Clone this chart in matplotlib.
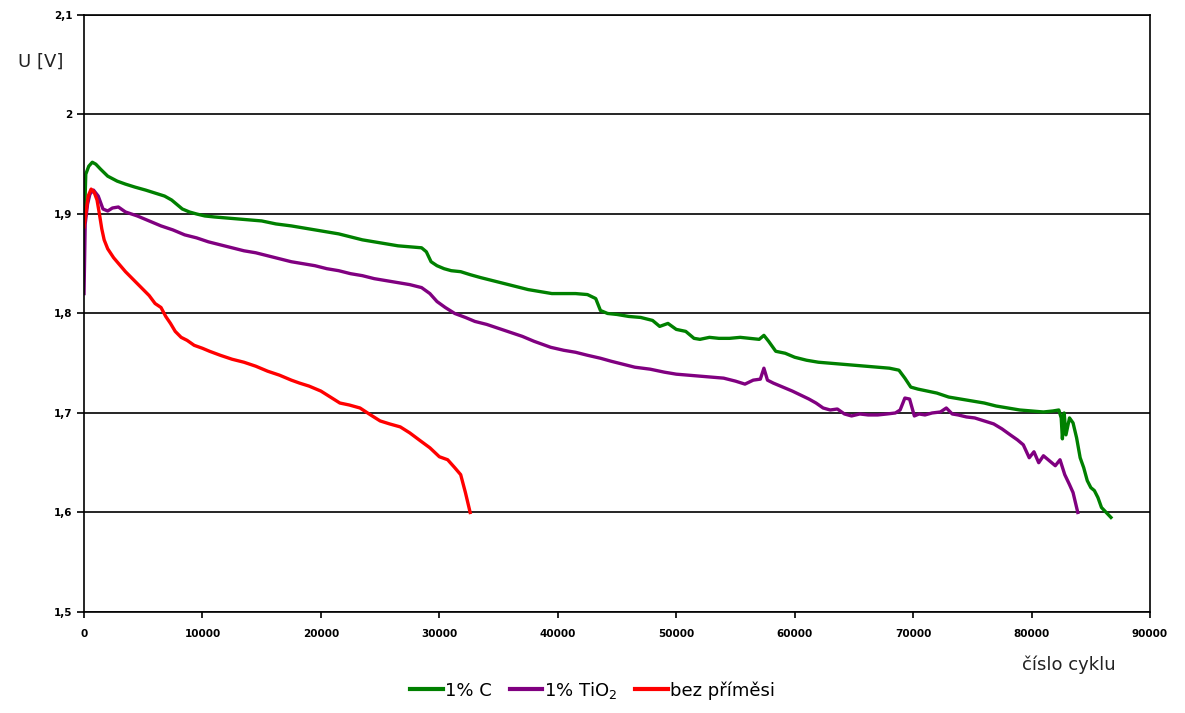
import matplotlib
matplotlib.use("Agg")
import matplotlib.pyplot as plt
from matplotlib.ticker import FuncFormatter, MultipleLocator

# 1% C
c_x = [0, 150, 400, 700, 1000, 1400, 2000, 2800, 3500, 4300, 5200, 6000, 6800, 7400,
       7800, 8300, 8900, 9500, 10200, 11000, 12000, 13000, 14000, 15000, 16200, 17500,
       18500, 19500, 20500, 21500, 22500, 23500, 24500, 25500, 26500, 27500, 28500, 28900,
       29300, 29800, 30400, 31000, 31800, 32600, 33500, 34500, 35500, 36500, 37500, 38500,
       39500, 40500, 41500, 42500, 43200, 43600, 44200, 45000, 46000, 47000, 48000, 48600,
       49300, 50000, 50800, 51500, 52000, 52800, 53600, 54500, 55400, 56200, 57000, 57400,
       57800, 58400, 59200, 60000, 61000, 62000, 63000, 64000, 65000, 66000, 67000, 68000,
       68800, 69300, 69800, 70400, 71200, 72000, 73000, 74000, 75000, 76000, 77000, 78000,
       79000, 80000, 81000, 81800, 82300, 82500, 82600, 82750, 82900, 83200, 83500, 83800,
       84100, 84400, 84700, 85000, 85300, 85600, 85900, 86300, 86700]
c_y = [1.88, 1.94, 1.948, 1.952, 1.95, 1.945, 1.938, 1.933, 1.93, 1.927, 1.924, 1.921, 1.918, 1.914,
       1.91, 1.905, 1.902, 1.9, 1.898, 1.897, 1.896, 1.895, 1.894, 1.893, 1.89, 1.888,
       1.886, 1.884, 1.882, 1.88, 1.877, 1.874, 1.872, 1.87, 1.868, 1.867, 1.866, 1.862,
       1.852, 1.848, 1.845, 1.843, 1.842, 1.839, 1.836, 1.833, 1.83, 1.827, 1.824, 1.822,
       1.82, 1.82, 1.82, 1.819, 1.815, 1.803, 1.8, 1.799, 1.797, 1.796, 1.793, 1.787,
       1.79, 1.784, 1.782, 1.775, 1.774, 1.776, 1.775, 1.775, 1.776, 1.775, 1.774, 1.778,
       1.772, 1.762, 1.76, 1.756, 1.753, 1.751, 1.75, 1.749, 1.748, 1.747, 1.746, 1.745,
       1.743, 1.735, 1.726, 1.724, 1.722, 1.72, 1.716, 1.714, 1.712, 1.71, 1.707, 1.705,
       1.703, 1.702, 1.701, 1.702, 1.703, 1.695, 1.674, 1.7, 1.678, 1.695, 1.69, 1.675,
       1.655, 1.645, 1.632, 1.625, 1.622, 1.615, 1.605, 1.6, 1.595]

# 1% TiO2
t_x = [0, 100, 300, 500, 800, 1200, 1600, 2000, 2400, 2900, 3500, 4500, 5500, 6500,
       7500, 8500, 9500, 10500, 11500, 12500, 13500, 14500, 15500, 16500, 17500, 18500,
       19500, 20500, 21500, 22500, 23500, 24500, 25500, 26500, 27500, 28500, 29200, 29800,
       30500, 31300, 32200, 33000, 34000, 35000, 36000, 37000, 38000, 39400, 40500, 41500,
       42500, 43600, 44500, 45500, 46500, 47800, 49000, 50000, 51000, 52000, 53000, 54000,
       55000, 55800, 56500, 57100, 57400, 57700, 58200, 59000, 59800, 60500, 61200, 61800,
       62400, 63000, 63600, 64200, 64800, 65500, 66200, 67000, 67800, 68500, 68900, 69300,
       69700, 70100, 70500, 71000, 71600, 72300, 72800, 73300, 73800, 74500, 75200, 76000,
       76800, 77500, 78200, 78800, 79300, 79800, 80200, 80600, 81000, 81500, 82000, 82400,
       82800, 83200, 83500, 83700, 83900]
t_y = [1.82, 1.89, 1.91, 1.92, 1.924, 1.918, 1.905, 1.903, 1.906, 1.907, 1.902, 1.898, 1.893, 1.888,
       1.884, 1.879, 1.876, 1.872, 1.869, 1.866, 1.863, 1.861, 1.858, 1.855, 1.852, 1.85,
       1.848, 1.845, 1.843, 1.84, 1.838, 1.835, 1.833, 1.831, 1.829, 1.826, 1.82, 1.812,
       1.806, 1.8, 1.796, 1.792, 1.789, 1.785, 1.781, 1.777, 1.772, 1.766, 1.763, 1.761,
       1.758, 1.755, 1.752, 1.749, 1.746, 1.744, 1.741, 1.739, 1.738, 1.737, 1.736, 1.735,
       1.732, 1.729, 1.733, 1.734, 1.745, 1.733, 1.73, 1.726, 1.722, 1.718, 1.714, 1.71,
       1.705, 1.703, 1.704, 1.699, 1.697, 1.699, 1.698, 1.698, 1.699, 1.7, 1.703, 1.715,
       1.714, 1.697, 1.699, 1.698, 1.7, 1.701, 1.705, 1.699, 1.698, 1.696, 1.695, 1.692,
       1.689, 1.684, 1.678, 1.673, 1.668, 1.655, 1.661, 1.65, 1.657, 1.652, 1.647, 1.653,
       1.638, 1.628, 1.62, 1.61, 1.6]

# bez příměsi
r_x = [0, 150, 350, 600, 850, 1100, 1300, 1500, 1700, 2000, 2500, 3000, 3500, 4000,
       4500, 5000, 5500, 6000, 6500, 6900, 7300, 7700, 8200, 8700, 9300, 10000, 10600,
       11500, 12500, 13500, 14500, 15500, 16500, 17500, 18200, 19000, 20000, 20800, 21600,
       22400, 23300, 24200, 25000, 25800, 26700, 27500, 28400, 29200, 30000, 30700, 31300,
       31800, 32200, 32600]
r_y = [1.887, 1.9, 1.918, 1.925, 1.922, 1.914, 1.9, 1.885, 1.874, 1.865, 1.856, 1.849, 1.842, 1.836,
       1.83, 1.824, 1.818, 1.81, 1.806, 1.797, 1.79, 1.782, 1.776, 1.773, 1.768, 1.765, 1.762,
       1.758, 1.754, 1.751, 1.747, 1.742, 1.738, 1.733, 1.73, 1.727, 1.722, 1.716, 1.71,
       1.708, 1.705, 1.698, 1.692, 1.689, 1.686, 1.68, 1.672, 1.665, 1.656, 1.653, 1.645,
       1.638, 1.62, 1.6]

x_ticks = [0, 10000, 20000, 30000, 40000, 50000, 60000, 70000, 80000, 90000]

fig = plt.figure(figsize=(11.85, 7.13), dpi=100)
ax = fig.add_axes([0.0709, 0.1417, 0.8996, 0.8373])

ax.plot(c_x, c_y, color="#008000", lw=2.4, label="1% C")
ax.plot(t_x, t_y, color="#800080", lw=2.4, label="1% TiO$_2$")
ax.plot(r_x, r_y, color="#ff0000", lw=2.4, label="bez příměsi")

ax.set_xlim(0, 90000)
ax.set_ylim(1.5, 2.1)
ax.set_xticks(x_ticks)
ax.yaxis.set_major_locator(MultipleLocator(0.1))
ax.yaxis.set_major_formatter(FuncFormatter(lambda v, p: f"{v:.1f}".replace(".0", "").replace(".", ",")))
ax.xaxis.set_major_formatter(FuncFormatter(lambda v, p: f"{v:.0f}"))
ax.tick_params(axis="both", labelsize=7.5, length=5, width=1.2, color="black")
for lab in ax.get_xticklabels() + ax.get_yticklabels():
    lab.set_fontweight("bold")
ax.tick_params(axis="x", length=4, pad=8)

ax.grid(axis="y", color="black", lw=1.2)
ax.set_axisbelow(True)
for s in ax.spines.values():
    s.set_linewidth(1.2)
    s.set_color("black")

fig.text(0.034, 0.913, "U [V]", fontsize=13, color="#222222", ha="center", va="center")
fig.text(0.902, 0.067, "číslo cyklu", fontsize=13, color="#222222", ha="center", va="center")

leg = ax.legend(loc="center", bbox_to_anchor=(0.5, 0.032), bbox_transform=fig.transFigure,
                ncol=3, frameon=False, fontsize=13, handlelength=1.8, handletextpad=0.1,
                columnspacing=1.0)
for h in leg.get_lines():
    h.set_linewidth(3)

fig.savefig("out.png", dpi=100)
